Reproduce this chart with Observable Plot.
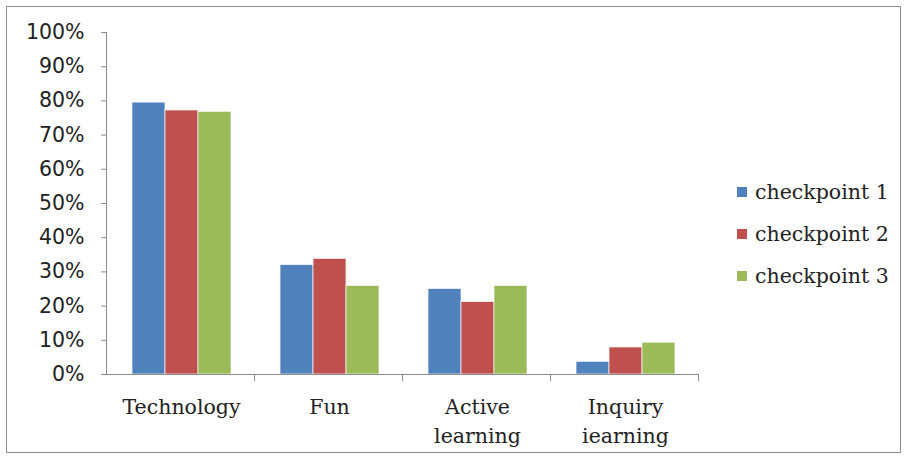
<!DOCTYPE html>
<html>
<head>
<meta charset="utf-8">
<script src="https://cdn.jsdelivr.net/npm/d3@7"></script>
<script src="https://cdn.jsdelivr.net/npm/@observablehq/plot@0.6"></script>
<style>
  body { margin: 0; background: #fff; }
  #wrap { position: relative; width: 906px; height: 459px; overflow: hidden; }
  #border { position: absolute; left: 6px; top: 6px; width: 893px; height: 445px; border: 1px solid #8c8c8c; pointer-events: none; }
  #legend { position: absolute; left: 737px; top: 171px; font-family: "DejaVu Serif", serif; font-size: 20.5px; color: #222; }
  .item { display: flex; align-items: center; height: 42px; }
  .sw { width: 10px; height: 10px; margin-right: 8px; }
  svg { position: absolute; left: 0; top: 0; }
</style>
</head>
<body>
<div id="wrap"><div id="border"></div><div id="legend"></div></div>
<script>
const categories = ["Technology", "Fun", "Active\nlearning", "Inquiry\niearning"];
const series = ["checkpoint 1", "checkpoint 2", "checkpoint 3"];
const colors = ["#4F81BD", "#C0504D", "#9BBB59"];
const checkpoint1 = [0.795, 0.32, 0.25, 0.037];
const checkpoint2 = [0.772, 0.338, 0.212, 0.079];
const checkpoint3 = [0.768, 0.259, 0.259, 0.093];
const yTicks = [0, 0.1, 0.2, 0.3, 0.4, 0.5, 0.6, 0.7, 0.8, 0.9, 1];

const values = [checkpoint1, checkpoint2, checkpoint3];
const data = [];
categories.forEach((c, i) => series.forEach((s, j) => data.push({category: c, series: s, value: values[j][i]})));

const chart = Plot.plot({
  width: 906,
  height: 459,
  marginLeft: 106,
  marginRight: 206,
  marginTop: 32,
  marginBottom: 85,
  style: {fontFamily: "DejaVu Serif, serif", background: "transparent"},
  fx: {domain: categories, padding: 0, axis: null, label: null},
  x: {domain: series, axis: null, paddingInner: 0, paddingOuter: 0.74, label: null},
  y: {domain: [0, 1], axis: null, label: null},
  color: {domain: series, range: colors},
  marks: [
    Plot.barY(data, {fx: "category", x: "series", y: "value", fill: "series", stroke: "#ffffff", strokeOpacity: 0.7, strokeWidth: 1}),
    Plot.axisY(yTicks, {tickFormat: d3.format(".0%"), tickSize: 6, tickPadding: 17, stroke: "#8c8c8c", fill: "#222", fontSize: 20.5, fontFamily: "DejaVu Sans, sans-serif", strokeOpacity: 1, label: null}),
    Plot.axisFx({anchor: "bottom", tickSize: 0, tickPadding: 19, fontSize: 20.5, fill: "#222", lineHeight: 1.42, textAnchor: "middle", label: null})
  ]
});
document.getElementById("wrap").appendChild(chart);

// axis lines and category boundary ticks derived from the plot's scales
const fx = chart.scale("fx"), y = chart.scale("y");
const svg = d3.select(chart);
const y0 = y.apply(0), y1 = y.apply(1);
const left = fx.apply(categories[0]);
const g = svg.append("g").attr("stroke", "#8c8c8c").attr("stroke-width", 1);
g.append("line").attr("x1", left - 0.5).attr("x2", left - 0.5).attr("y1", y1).attr("y2", y0);
const right = fx.apply(categories[categories.length - 1]) + fx.bandwidth;
g.append("line").attr("x1", left).attr("x2", right).attr("y1", y0 + 0.5).attr("y2", y0 + 0.5);
categories.forEach(c => {
  const xb = fx.apply(c) + fx.bandwidth;
  g.append("line").attr("x1", xb - 0.5).attr("x2", xb - 0.5).attr("y1", y0).attr("y2", y0 + 7);
});

const legend = d3.select("#legend");
series.forEach((s, i) => {
  const it = legend.append("div").attr("class", "item");
  it.append("div").attr("class", "sw").style("background", colors[i]);
  it.append("span").text(s);
});
</script>
</body>
</html>
